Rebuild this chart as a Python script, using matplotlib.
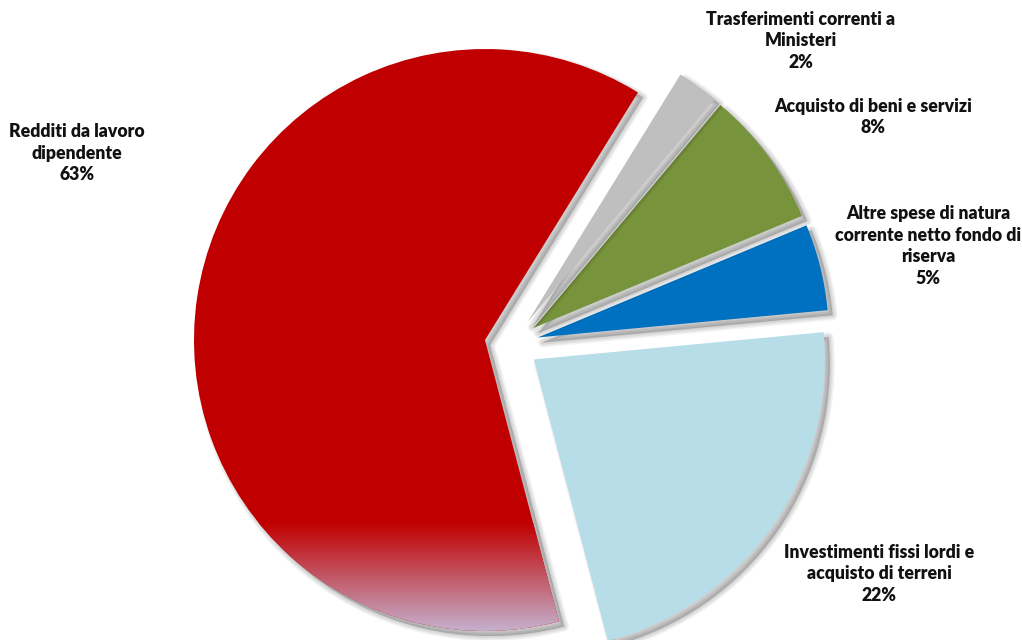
import numpy as np
import matplotlib.pyplot as plt
from matplotlib.patches import Wedge
from matplotlib.colors import LinearSegmentedColormap

# slices, counter-clockwise from the top edge of the red one
labels = ["Redditi da lavoro\ndipendente",
          "Investimenti fissi lordi e\nacquisto di terreni",
          "Altre spese di natura\ncorrente netto fondo di\nriserva",
          "Acquisto di beni e servizi",
          "Trasferimenti correnti a\nMinisteri"]
values = [62.9, 22.4, 4.8, 7.6, 2.3]
colors = ["#C00000", "#B7DDE8", "#0070C0", "#77933C", "#BFBFBF"]

# label block centres, in pixels from the top-left corner
label_pos = [(77, 153), (879, 574), (928, 246), (873, 117), (801, 41)]

W, H = 1022, 640
R = 291.0            # pie radius in pixels
cx, cy = 511.7, 344.0  # pie centre in pixels

fig = plt.figure(figsize=(W / 100, H / 100), dpi=100)
ax = fig.add_axes([0, 0, 1, 1])

wedges, _ = ax.pie(values, colors=colors, startangle=58.3, counterclock=True,
                   explode=[27 / R] * len(values), radius=1,
                   wedgeprops=dict(linewidth=0))

# soft drop shadows, each one just under its own slice
off = np.array([5.0, -5.0]) / R
for i, w in enumerate(wedges):
    w.set_zorder(2 * i + 2)
    for lw in [7, 5, 3, 1]:
        sh = Wedge(np.array(w.center) + off, w.r, w.theta1, w.theta2,
                   facecolor=(0, 0, 0, 0.05), edgecolor=(0, 0, 0, 0.05),
                   linewidth=lw, joinstyle='round', zorder=2 * i + 1.5)
        ax.add_patch(sh)

# fade at the bottom of the red slice
red = wedges[0]
x0, y0 = red.center
r = red.r
g_top, g_bot = y0 - 0.63 * r, y0 - r
cmap = LinearSegmentedColormap.from_list("fade", ["#C6C8EA", "#C00000"])
img = ax.imshow(np.linspace(0, 1, 256)[:, None], cmap=cmap, origin='lower',
                extent=[x0 - r, x0 + r, g_bot - 0.05, g_top], aspect='auto',
                zorder=2.5, interpolation='bilinear')
img.set_clip_path(red)

for lab, v, (px, py) in zip(labels, values, label_pos):
    ax.text((px - cx) / R, (cy - py) / R, f"{lab}\n{round(v)}%",
            ha='center', va='center', multialignment='center',
            fontsize=12.7, fontweight='heavy', family=['Lato', 'DejaVu Sans'],
            linespacing=1.31, color='#111111', zorder=20)

ax.set_xlim(-cx / R, (W - cx) / R)
ax.set_ylim(-(H - cy) / R, cy / R)
ax.set_aspect('auto')
ax.axis('off')

fig.savefig("out.png", dpi=100)
